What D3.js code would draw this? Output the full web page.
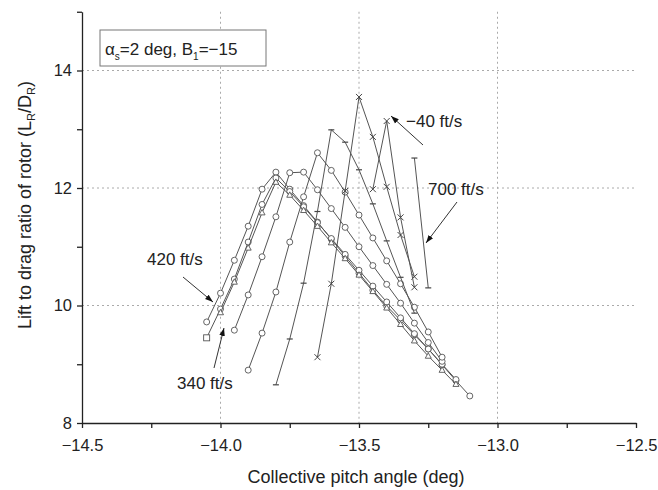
<!DOCTYPE html>
<html>
<head>
<meta charset="utf-8">
<script src="https://cdn.jsdelivr.net/npm/d3@7"></script>
<style>
  body { margin: 0; background: #fff; }
  text { font-family: "Liberation Sans", Arial, sans-serif; fill: #222; }
  .axis path, .axis line { stroke: #222; stroke-width: 1.3; }
  .axis text { font-size: 16.5px; fill: #222; }
  .grid { stroke: #aaa; stroke-dasharray: 2,3; stroke-width: 1; }
  .curve { fill: none; stroke: #555; stroke-width: 1; }
</style>
</head>
<body>
<script>
// Lift to drag ratio vs collective pitch chart

// Tick values
const xTicks = [-14.5, -14.0, -13.5, -13.0, -12.5];
const xMinor = [-14.25, -13.75, -13.25, -12.75];
const yTicks = [8, 10, 12, 14];
const yMinor = [9, 11, 13, 15];
const xGrid = [-14.0, -13.5, -13.0];
const yGrid = [10, 12, 14];

// Series (pitch angle, L/D)
const xA = [-14.05,-14.0,-13.95,-13.9,-13.85,-13.8,-13.75,-13.7,-13.65,-13.6,-13.55,-13.5,-13.45,-13.4,-13.35,-13.3,-13.25,-13.2,-13.15,-13.1];
const yA = [9.72,10.21,10.77,11.35,11.98,12.27,11.98,11.70,11.42,11.13,10.84,10.55,10.26,9.99,9.75,9.50,9.26,8.99,8.72,8.46];
const xB = [-14.05,-14.0,-13.95,-13.9,-13.85,-13.8,-13.75,-13.7,-13.65,-13.6,-13.55,-13.5,-13.45,-13.4,-13.35,-13.3,-13.25,-13.2,-13.15];
const yB = [9.45,9.94,10.45,11.08,11.72,12.17,11.94,11.68,11.41,11.14,10.87,10.60,10.33,10.06,9.79,9.52,9.26,9.00,8.74];
const xT = [-14.0,-13.95,-13.9,-13.85,-13.8,-13.75,-13.7,-13.65,-13.6,-13.55,-13.5,-13.45,-13.4,-13.35,-13.3,-13.25,-13.2,-13.15];
const yT = [9.88,10.40,10.98,11.58,12.10,11.88,11.62,11.35,11.07,10.80,10.52,10.24,9.96,9.68,9.40,9.14,8.90,8.66];
const xC = [-13.95,-13.9,-13.85,-13.8,-13.75,-13.7,-13.65,-13.6,-13.55,-13.5,-13.45,-13.4,-13.35,-13.3,-13.25,-13.2];
const yC = [9.58,10.18,10.83,11.51,12.26,12.27,11.97,11.65,11.33,11.00,10.68,10.36,10.04,9.70,9.37,9.05];
const xD = [-13.9,-13.85,-13.8,-13.75,-13.7,-13.65,-13.6,-13.55,-13.5,-13.45,-13.4,-13.35,-13.3,-13.25,-13.2];
const yD = [8.90,9.53,10.23,11.08,11.85,12.60,12.30,11.93,11.54,11.15,10.76,10.37,9.97,9.55,9.12];
const xE = [-13.8,-13.75,-13.7,-13.65,-13.6,-13.55,-13.5,-13.45,-13.4,-13.35,-13.3];
const yE = [8.65,9.43,10.38,11.60,12.99,12.78,12.31,11.73,11.10,10.48,9.87];
const xF = [-13.65,-13.6,-13.55,-13.5,-13.45,-13.4,-13.35,-13.3];
const yF = [9.12,10.37,11.95,13.55,12.87,12.02,11.20,10.49];
const xG = [-13.45,-13.4,-13.35,-13.3];
const yG = [11.98,13.14,11.50,10.31];
const xH = [-13.3,-13.25];
const yH = [12.51,10.30];

const series = [
  { xs: xA, ys: yA, marker: "circle" },
  { xs: xB, ys: yB, marker: "circle", first: "square" },
  { xs: xT, ys: yT, marker: "triangle" },
  { xs: xC, ys: yC, marker: "circle" },
  { xs: xD, ys: yD, marker: "circle" },
  { xs: xE, ys: yE, marker: "dash" },
  { xs: xF, ys: yF, marker: "cross" },
  { xs: xG, ys: yG, marker: "cross" },
  { xs: xH, ys: yH, marker: "dash" }
];

const w = 658;
const h = 490;

const xScale = d3.scaleLinear().domain([-14.5, -12.5]).range([82, 636]);
const yScale = d3.scaleLinear().domain([8, 15]).range([423, 11.75]);

const svg = d3.select("body").append("svg")
  .attr("width", w)
  .attr("height", h);

// Dotted grid
svg.selectAll(".gx").data(xGrid).enter().append("line")
  .attr("class", "grid")
  .attr("x1", d => xScale(d)).attr("x2", d => xScale(d))
  .attr("y1", yScale(15)).attr("y2", yScale(8));
svg.selectAll(".gy").data(yGrid).enter().append("line")
  .attr("class", "grid")
  .attr("x1", xScale(-14.5)).attr("x2", xScale(-12.5))
  .attr("y1", d => yScale(d)).attr("y2", d => yScale(d));

// Curves
const line = d3.line().x(d => xScale(d[0])).y(d => yScale(d[1]));
series.forEach(s => {
  const pts = s.xs.map((x, i) => [x, s.ys[i]]);
  svg.append("path").datum(pts).attr("class", "curve").attr("d", line);
  const g = svg.append("g");
  pts.forEach((p, i) => {
    const cx = xScale(p[0]), cy = yScale(p[1]);
    const m = (i === 0 && s.first) ? s.first : s.marker;
    if (m === "circle") {
      g.append("circle").attr("cx", cx).attr("cy", cy).attr("r", 3)
        .attr("fill", "#fff").attr("stroke", "#555").attr("stroke-width", 0.9);
    } else if (m === "square") {
      g.append("rect").attr("x", cx - 3).attr("y", cy - 3).attr("width", 6).attr("height", 6)
        .attr("fill", "#fff").attr("stroke", "#555").attr("stroke-width", 0.9);
    } else if (m === "triangle") {
      g.append("path").attr("d", `M${cx},${cy - 3.2}L${cx + 3},${cy + 2.2}L${cx - 3},${cy + 2.2}Z`)
        .attr("fill", "#fff").attr("stroke", "#555").attr("stroke-width", 0.9);
    } else if (m === "cross") {
      g.append("path").attr("d", `M${cx - 3},${cy - 3}L${cx + 3},${cy + 3}M${cx + 3},${cy - 3}L${cx - 3},${cy + 3}`)
        .attr("stroke", "#444").attr("stroke-width", 1);
    } else {
      g.append("path").attr("d", `M${cx - 3},${cy}L${cx + 3},${cy}`)
        .attr("stroke", "#444").attr("stroke-width", 1.2);
    }
  });
});

// Axes
const fmt = d3.format(".1f");
const xAxisG = svg.append("g").attr("class", "axis")
  .attr("transform", "translate(0," + yScale(8) + ")")
  .call(d3.axisBottom(xScale).tickValues(xTicks).tickFormat(fmt).tickSize(5).tickSizeOuter(0));
xAxisG.selectAll("text").attr("y", 16);
// keep the last label inside the window
xAxisG.selectAll("text").filter(d => d === -12.5).attr("text-anchor", "end").attr("x", 21);
svg.append("g").attr("class", "axis")
  .attr("transform", "translate(0," + yScale(8) + ")")
  .call(d3.axisBottom(xScale).tickValues(xMinor).tickFormat("").tickSize(5))
  .select(".domain").remove();
svg.append("g").attr("class", "axis")
  .attr("transform", "translate(" + xScale(-14.5) + ",0)")
  .call(d3.axisLeft(yScale).tickValues(yTicks).tickFormat(d3.format("d")).tickSize(5).tickSizeOuter(0))
  .selectAll("text").attr("x", -10);
svg.append("g").attr("class", "axis")
  .attr("transform", "translate(" + xScale(-14.5) + ",0)")
  .call(d3.axisLeft(yScale).tickValues(yMinor).tickFormat("").tickSize(5))
  .select(".domain").remove();

// Axis titles
svg.append("text")
  .attr("x", 356).attr("y", 483)
  .attr("text-anchor", "middle")
  .style("font-size", "18px")
  .text("Collective pitch angle (deg)");

const yl = svg.append("text")
  .attr("transform", "translate(31,205) rotate(-90)")
  .attr("text-anchor", "middle")
  .style("font-size", "18px");
yl.append("tspan").text("Lift to drag ratio of rotor (L");
yl.append("tspan").attr("dy", 4).style("font-size", "11px").text("R");
yl.append("tspan").attr("dy", -4).text("/D");
yl.append("tspan").attr("dy", 4).style("font-size", "11px").text("R");
yl.append("tspan").attr("dy", -4).text(")");

// Condition box
svg.append("rect")
  .attr("x", 100).attr("y", 30).attr("width", 166).attr("height", 36)
  .attr("fill", "#fff").attr("stroke", "#777").attr("stroke-width", 1);
const bt = svg.append("text").attr("x", 105).attr("y", 55).style("font-size", "17px");
bt.append("tspan").text("α");
bt.append("tspan").attr("dy", 5).style("font-size", "10px").text("s");
bt.append("tspan").attr("dy", -5).text("=2 deg, B");
bt.append("tspan").attr("dy", 5).style("font-size", "10px").text("1");
bt.append("tspan").attr("dy", -5).text("=−15");

// Annotations with arrows
svg.append("defs").append("marker")
  .attr("id", "arr").attr("viewBox", "0 0 10 10")
  .attr("refX", 10).attr("refY", 5)
  .attr("markerWidth", 8).attr("markerHeight", 8)
  .attr("orient", "auto")
  .append("path").attr("d", "M0,1.5L10,5L0,8.5Z").attr("fill", "#111");

const notes = [
  { t: "420 ft/s", tx: 147, ty: 265, x1: 183, y1: 277, x2: 213, y2: 302 },
  { t: "340 ft/s", tx: 177, ty: 389, x1: 214, y1: 368, x2: 224, y2: 328 },
  { t: "−40 ft/s", tx: 406, ty: 127, x1: 423, y1: 145, x2: 391, y2: 116 },
  { t: "700 ft/s", tx: 428, ty: 195, x1: 457, y1: 202, x2: 426, y2: 243 }
];
notes.forEach(n => {
  svg.append("text").attr("x", n.tx).attr("y", n.ty).style("font-size", "17px").text(n.t);
  svg.append("line")
    .attr("x1", n.x1).attr("y1", n.y1).attr("x2", n.x2).attr("y2", n.y2)
    .attr("stroke", "#333").attr("stroke-width", 1)
    .attr("marker-end", "url(#arr)");
});
</script>
</body>
</html>
